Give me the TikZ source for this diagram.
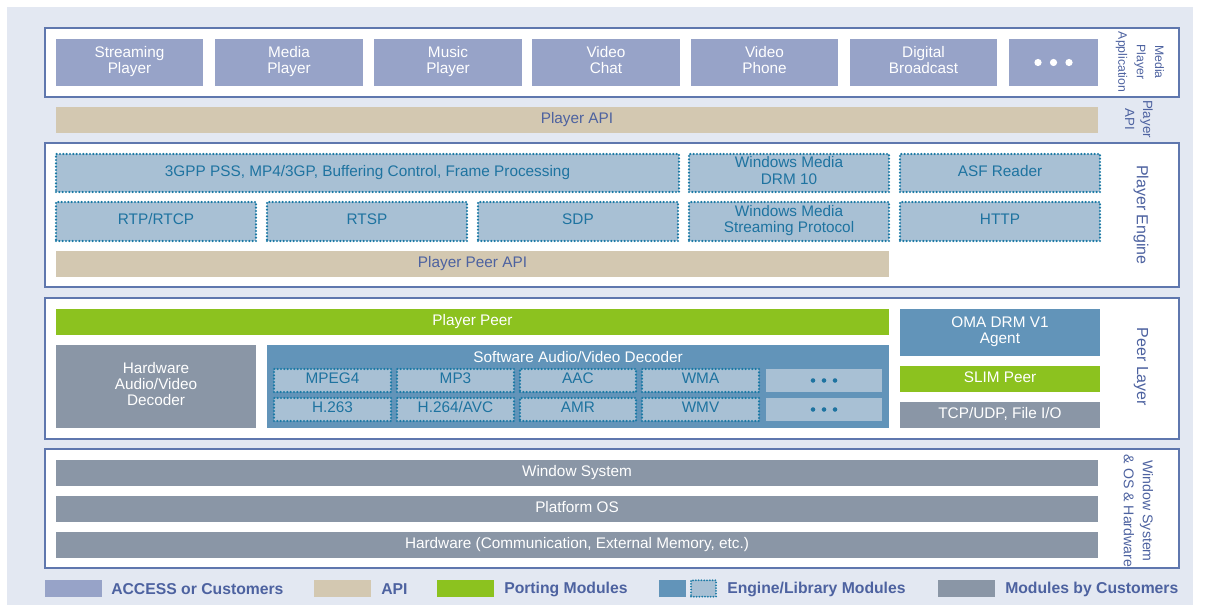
\documentclass[tikz,border=0pt]{standalone}
\usepackage{fontspec}
\setmainfont{Liberation Sans}
\definecolor{bgc}{HTML}{E3E8F2}
\definecolor{panelc}{HTML}{5F77AE}
\definecolor{appc}{HTML}{97A3C8}
\definecolor{apic}{HTML}{D3C8B1}
\definecolor{labc}{HTML}{4D62A0}
\definecolor{engfill}{HTML}{A8C0D4}
\definecolor{engdot}{HTML}{1B7AA5}
\definecolor{engtext}{HTML}{1E73A0}
\definecolor{greenc}{HTML}{8CC21F}
\definecolor{libc}{HTML}{6294B9}
\definecolor{custc}{HTML}{8A96A6}
\newcommand\boxfont{\fontsize{11.5}{12.3}\selectfont}
\tikzset{
  corners/.style args={#1/#2/#3/#4}{minimum width=(#3-#1)*0.75pt,
    minimum height=(#4-#2)*0.75pt, at={({(#1+#3)/2},{(#2+#4)/2})}},
  panel/.style={draw=panelc, line width=1pt, fill=white, inner sep=0pt},
  blk/.style={inner sep=0pt, align=center, font=\boxfont,
    execute at begin node=\strut, execute at end node=\strut},
  app/.style={blk, fill=appc, text=white},
  apibar/.style={blk, fill=apic, text=labc},
  eng/.style={blk, fill=engfill, text=engtext, draw=engdot, line width=1.8pt,
    dash pattern=on 0pt off 2.5pt, line cap=round},
  engplain/.style={blk, fill=engfill},
  port/.style={blk, fill=greenc, text=white},
  lib/.style={blk, fill=libc, text=white},
  cust/.style={blk, fill=custc, text=white},
  side/.style={text=labc, rotate=-90, align=center},
  legtext/.style={text=labc, anchor=west, inner sep=0pt, font=\fontsize{11.8}{13}\selectfont\bfseries},
}
\begin{document}
\begin{tikzpicture}[x=0.75pt, y=-0.75pt]
\useasboundingbox (0,0) rectangle (1208,605);
\fill[bgc] (7,7) rectangle (1193,605);

% panels
\node[panel, corners=45/28/1179/97] (pApp) {};
\node[panel, corners=45/143/1179/287] (pEng) {};
\node[panel, corners=45/298/1179/439] (pPeer) {};
\node[panel, corners=45/449/1179/568] (pWin) {};

% applications
\node[app, corners=56/39/203/86] (a1) {Streaming\\Player};
\node[app, corners=215/39/363/86] (a2) {Media\\Player};
\node[app, corners=374/39/522/86] (a3) {Music\\Player};
\node[app, corners=532/39/680/86] (a4) {Video\\Chat};
\node[app, corners=691/39/838/86] (a5) {Video\\Phone};
\node[app, corners=850/39/997/86] (a6) {Digital\\Broadcast};
\node[app, corners=1009/39/1098/86] (a7) {};
\foreach \d in {-15.5,0,15.5} \fill[white] ([xshift=\d*0.75pt]a7.center) circle[radius=2.7pt];

% player api
\node[apibar, corners=56/107/1098/133] (api) {Player API};

% engine
\node[eng, corners=56/154/679/192] (e1) {3GPP PSS, MP4/3GP, Buffering Control, Frame Processing};
\node[eng, corners=689/154/889/192] (e2) {Windows Media\\DRM 10};
\node[eng, corners=900/154/1100/192] (e3) {ASF Reader};
\node[eng, corners=56/202/256/241] (e4) {RTP/RTCP};
\node[eng, corners=267/202/467/241] (e5) {RTSP};
\node[eng, corners=478/202/678/241] (e6) {SDP};
\node[eng, corners=689/202/889/241] (e7) {Windows Media\\Streaming Protocol};
\node[eng, corners=900/202/1100/241] (e8) {HTTP};
\node[apibar, corners=56/251/889/277] (ppapi) {Player Peer API};

% peer layer
\node[port, corners=56/309/889/335] (pp) {Player Peer};
\node[cust, corners=56/345/256/428] (hw) {Hardware\\Audio/Video\\Decoder};
\node[lib, corners=267/345/889/428] (sw) {};
\node[text=white, font=\boxfont, inner sep=0pt] (swt) at (578,357) {Software Audio/Video Decoder};
\node[eng, corners=274/369/391/392] (c1) {MPEG4};
\node[eng, corners=397/369/514/392] (c2) {MP3};
\node[eng, corners=520/369/636/392] (c3) {AAC};
\node[eng, corners=642/369/759/392] (c4) {WMA};
\node[engplain, corners=766/369/882/392] (c5) {};
\node[eng, corners=274/398/391/421] (c6) {H.263};
\node[eng, corners=397/398/514/421] (c7) {H.264/AVC};
\node[eng, corners=520/398/636/421] (c8) {AMR};
\node[eng, corners=642/398/759/421] (c9) {WMV};
\node[engplain, corners=766/398/882/421] (c10) {};
\foreach \d in {-11,0,11} {
  \fill[engtext] ([xshift=\d*0.75pt]c5.center) circle[radius=1.7pt];
  \fill[engtext] ([xshift=\d*0.75pt]c10.center) circle[radius=1.7pt];
}
\node[lib, corners=900/309/1100/356] (oma) {OMA DRM V1\\Agent};
\node[port, corners=900/366/1100/392] (slim) {SLIM Peer};
\node[cust, corners=900/402/1100/428] (tcp) {TCP/UDP, File I/O};

% window / os / hardware
\node[cust, corners=56/460/1098/486] (ws) {Window System};
\node[cust, corners=56/496/1098/522] (os) {Platform OS};
\node[cust, corners=56/532/1098/558] (hwb) {Hardware (Communication, External Memory, etc.)};

% side labels
\node[side, font=\fontsize{9.2}{13.8}\selectfont] (l1) at (1140,62) {Media\\Player\\Application};
\node[side, font=\fontsize{10}{13.5}\selectfont] (l2) at (1139,119) {Player\\API};
\node[side, font=\fontsize{12}{14}\selectfont] (l3) at (1141,215) {Player Engine};
\node[side, font=\fontsize{12}{14}\selectfont] (l4) at (1141,367) {Peer Layer};
\node[side, font=\fontsize{10.6}{14.3}\selectfont] (l5) at (1138.5,511) {Window System\\\& OS \& Hardware};

% legend
\node[blk, fill=appc, corners=45/581/102/596] (g1) {};
\node[legtext] (g1t) at (111,589) {ACCESS or Customers};
\node[blk, fill=apic, corners=314/581/371/596] (g2) {};
\node[legtext] (g2t) at (381,589) {API};
\node[blk, fill=greenc, corners=437/581/494/596] (g3) {};
\node[legtext] (g3t) at (504,589) {Porting Modules};
\node[blk, fill=libc, corners=659/581/686/596] (g4) {};
\node[eng, line width=1.5pt, dash pattern=on 0pt off 2.1pt, corners=691/582/716/595] (g4b) {};
\node[legtext] (g4t) at (727,589) {Engine/Library Modules};
\node[blk, fill=custc, corners=938/581/995/596] (g5) {};
\node[legtext] (g5t) at (1005,589) {Modules by Customers};
\end{tikzpicture}
\end{document}
